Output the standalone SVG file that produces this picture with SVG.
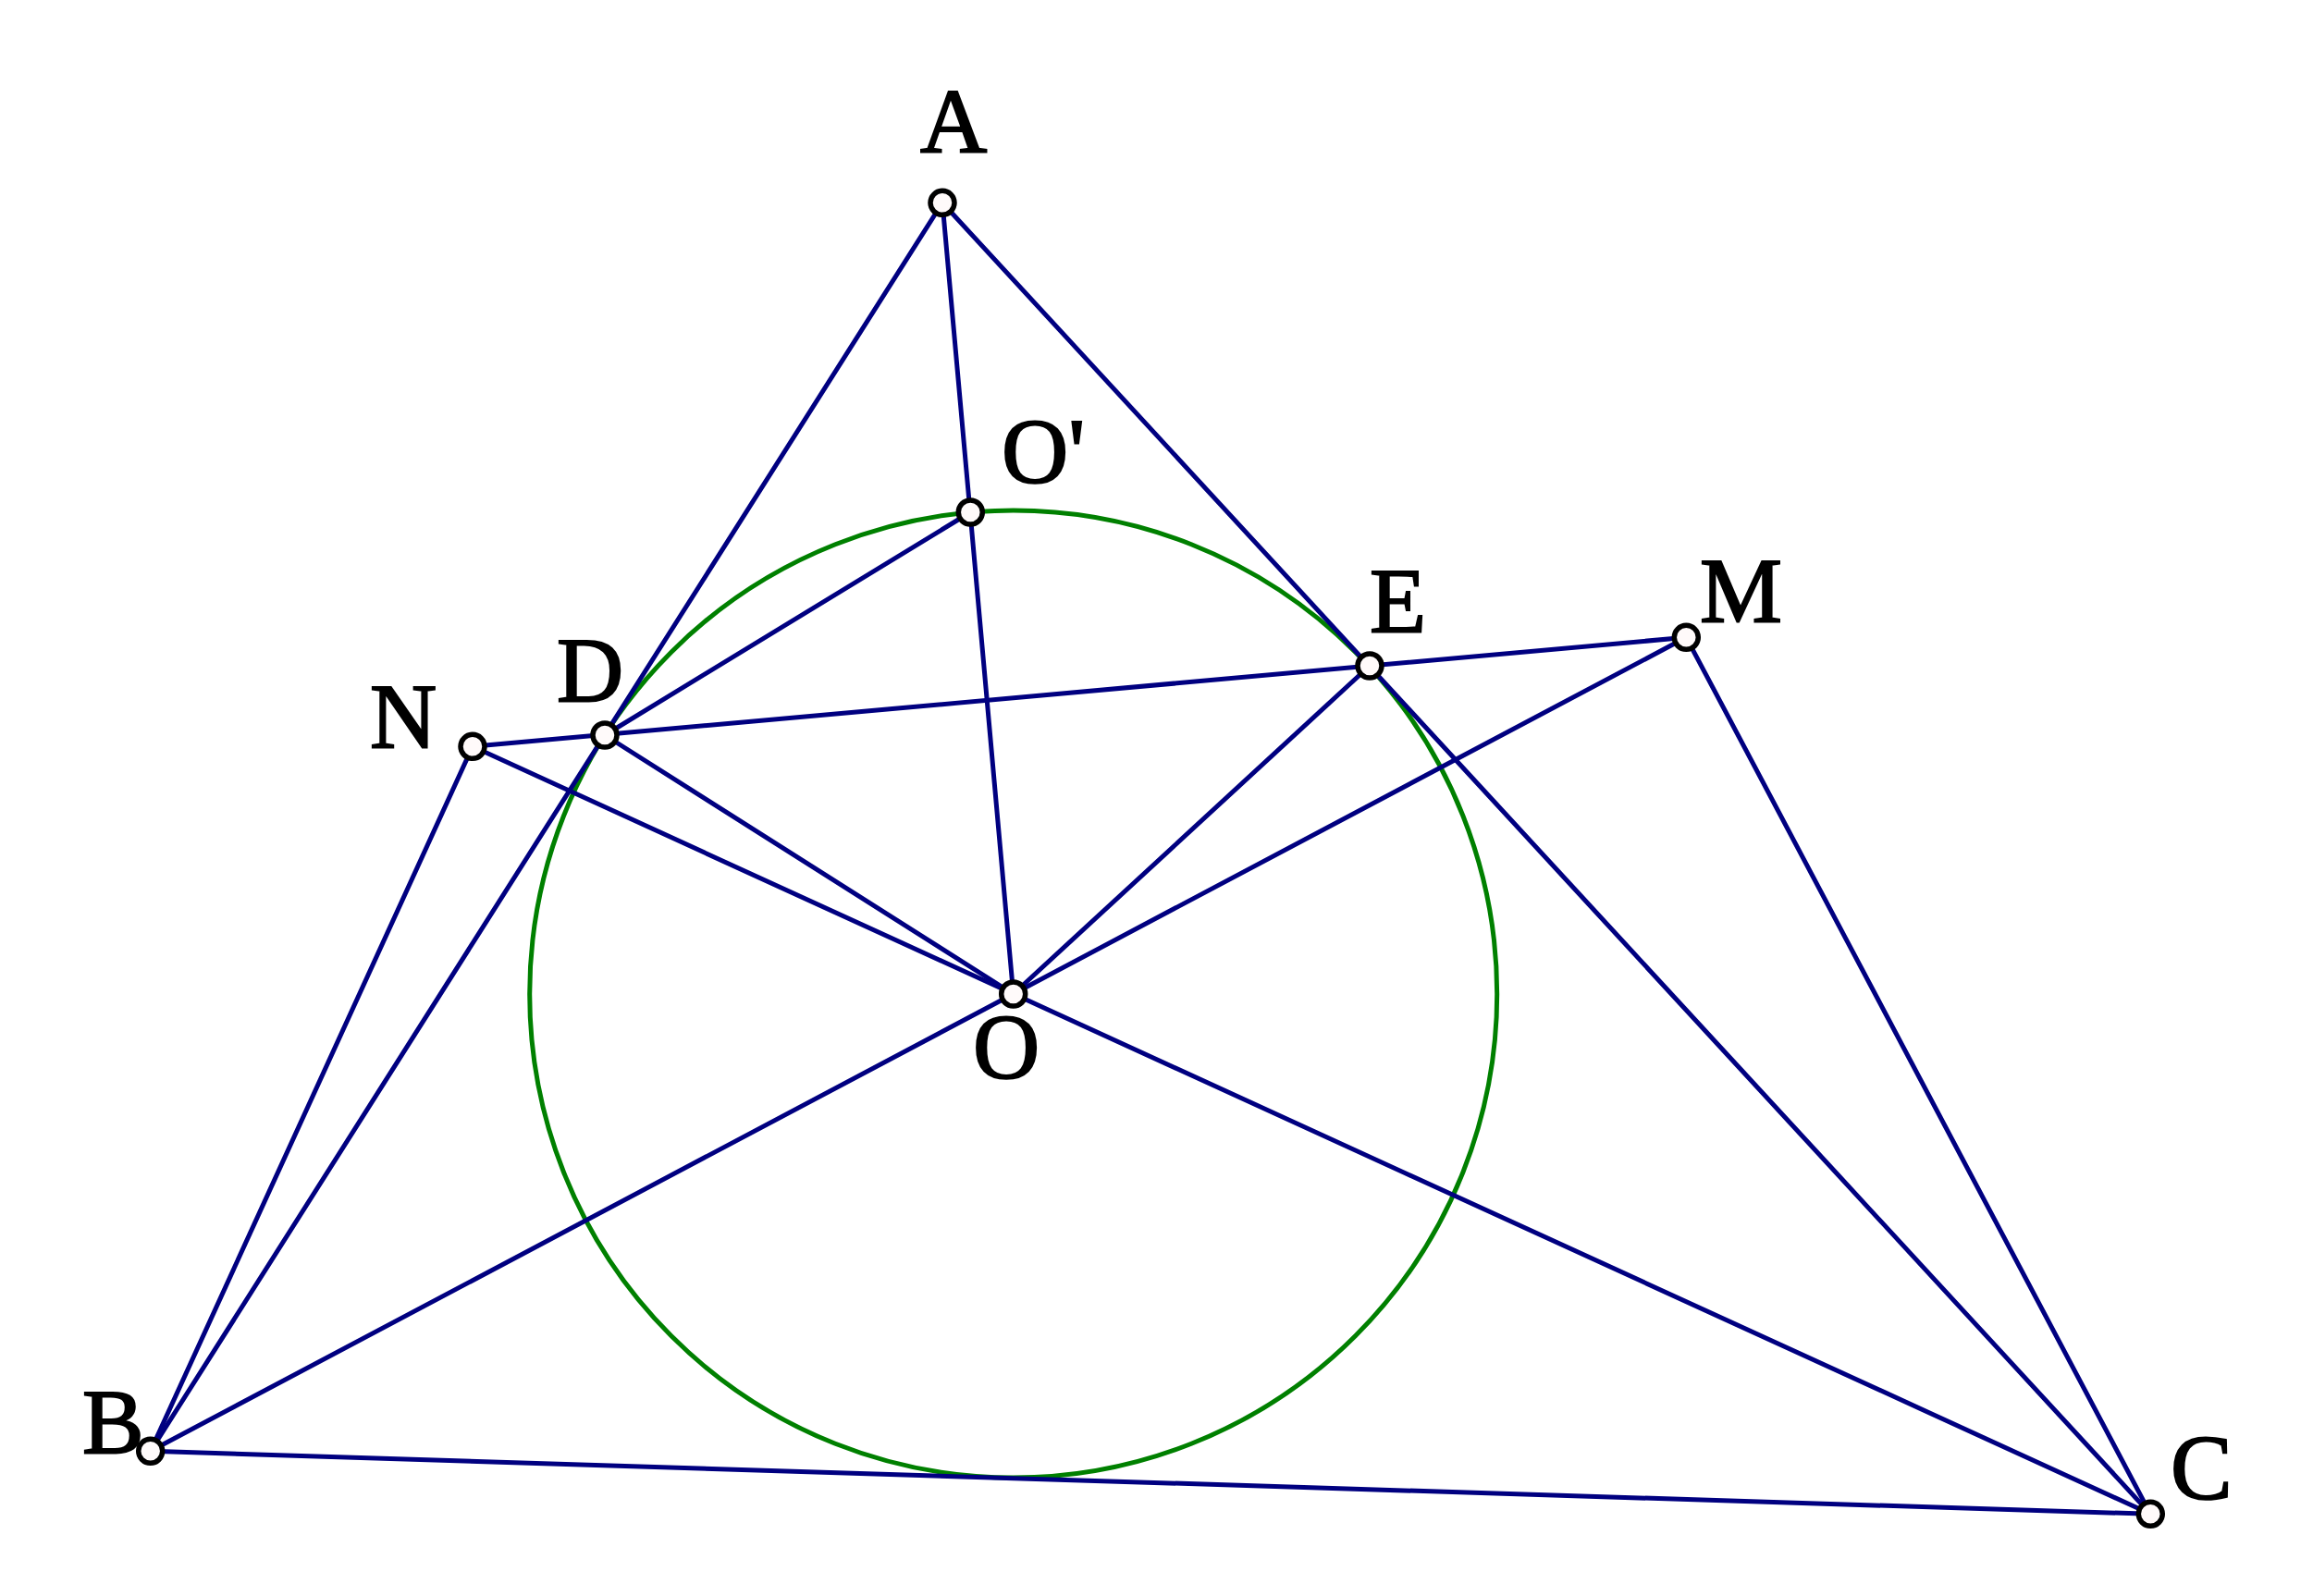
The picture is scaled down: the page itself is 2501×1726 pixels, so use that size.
<svg xmlns="http://www.w3.org/2000/svg" width="2501" height="1726" viewBox="0 0 2501 1726">
<style>
.ln{stroke:#000080;stroke-width:5;fill:none;stroke-linecap:round}
.cr{stroke:#008000;stroke-width:5;fill:none}
.pt{fill:#fffafa;stroke:#000;stroke-width:5.5}
.lb{font-family:"Liberation Serif",serif;font-weight:normal;font-size:100px;fill:#000;stroke:#000;stroke-width:2}
</style>
<rect width="2501" height="1726" fill="#fff"/>
<circle class="cr" cx="1095.7" cy="1075" r="523"/>
<g id="connectors">
<line class="ln" x1="1019" y1="219.3" x2="162.7" y2="1569.3"/>
<line class="ln" x1="1019" y1="219.3" x2="2325.3" y2="1637.3"/>
<line class="ln" x1="1019" y1="219.3" x2="1095.7" y2="1075"/>
<line class="ln" x1="1049.3" y1="554" x2="654" y2="795"/>
<line class="ln" x1="511" y1="807.3" x2="1823.3" y2="689.3"/>
<line class="ln" x1="511" y1="807.3" x2="2325.3" y2="1637.3"/>
<line class="ln" x1="1823.3" y1="689.3" x2="162.7" y2="1569.3"/>
<line class="ln" x1="511" y1="807.3" x2="162.7" y2="1569.3"/>
<line class="ln" x1="654" y1="795" x2="1095.7" y2="1075"/>
<line class="ln" x1="1481" y1="720" x2="1095.7" y2="1075"/>
<line class="ln" x1="1823.3" y1="689.3" x2="2325.3" y2="1637.3"/>
<line class="ln" x1="162.7" y1="1569.3" x2="2325.3" y2="1637.3"/>
</g>
<g id="A"><circle class="pt" cx="1019" cy="219.3" r="13"/><text class="lb" x="995" y="165">A</text></g>
<g id="Oprime"><circle class="pt" cx="1049.3" cy="554" r="13"/><text class="lb" x="1083" y="521">O'</text></g>
<g id="E"><circle class="pt" cx="1481" cy="720" r="13"/><text class="lb" x="1481" y="683">E</text></g>
<g id="M"><circle class="pt" cx="1823.3" cy="689.3" r="13"/><text class="lb" x="1838" y="672">M</text></g>
<g id="N"><circle class="pt" cx="511" cy="807.3" r="13"/><text class="lb" x="400" y="808">N</text></g>
<g id="D"><circle class="pt" cx="654" cy="795" r="13"/><text class="lb" x="602" y="758">D</text></g>
<g id="O"><circle class="pt" cx="1095.7" cy="1075" r="13"/><text class="lb" x="1052" y="1165">O</text></g>
<g id="B"><circle class="pt" cx="162.7" cy="1569.3" r="13"/><text class="lb" x="89" y="1571">B</text></g>
<g id="C"><circle class="pt" cx="2325.3" cy="1637.3" r="13"/><text class="lb" x="2347" y="1620">C</text></g>
</svg>
